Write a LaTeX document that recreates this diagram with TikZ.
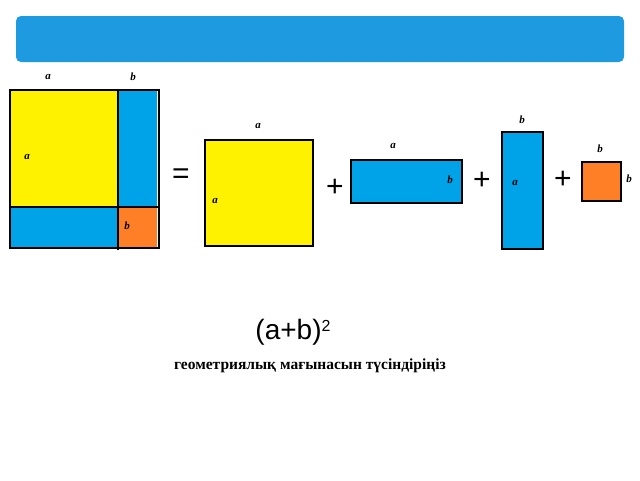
\documentclass[tikz,border=0pt]{standalone}
\usepackage{fontspec}
\setmainfont{Liberation Serif}
\newfontfamily\arialf{Liberation Sans}
\definecolor{yel}{HTML}{FFF200}
\definecolor{blu}{HTML}{00A2E8}
\definecolor{org}{HTML}{FF7F27}
\definecolor{ban}{HTML}{1E9BE0}
\tikzset{lab/.style={font=\bfseries\itshape\fontsize{11}{11}\selectfont,inner sep=0pt},
 pl/.style={font=\arialf\fontsize{30}{30}\selectfont,inner sep=0pt},
 sq/.style={draw=black,line width=2.2pt}}
\begin{document}
\begin{tikzpicture}[x=1pt,y=-1pt]
\useasboundingbox (0,0) rectangle (640,480);
\fill[ban,rounded corners=5pt] (16,16) rectangle (624,62);
% big square
\fill[yel] (10,90) rectangle (118,207);
\fill[blu] (118,90) rectangle (157,207);
\fill[blu] (10,207) rectangle (118,248);
\fill[org] (118,207) rectangle (157,248);
\draw[line width=1.5pt] (118,90) -- (118,250) (10,207) -- (159,207);
\draw[sq] (10,90) rectangle (159,248);
\node[lab] (la1) at (48,77) {a};
\node[lab] (lb1) at (133,77) {b};
\node[lab] (la2) at (27,157) {a};
\node[lab] (lb2) at (127,226) {b};
\node[pl] (eq) at (181,176) {=};
\node[sq,fill=yel,minimum width=108pt,minimum height=106pt,inner sep=0pt] (s1) at (259,193) {};
\node[lab] at (258,126) {a};
\node[lab] at (215,201) {a};
\node[pl] (p1) at (335,188) {+};
\node[sq,fill=blu,minimum width=111pt,minimum height=43pt,inner sep=0pt] (r1) at (406.5,181.5) {};
\node[lab] at (393,146) {a};
\node[lab] at (450,180) {b};
\node[pl] (p2) at (482,181) {+};
\node[sq,fill=blu,minimum width=41pt,minimum height=117pt,inner sep=0pt] (r2) at (522.5,190.5) {};
\node[lab] at (522,120) {b};
\node[lab] at (515,183) {a};
\node[pl] (p3) at (563,180) {+};
\node[sq,fill=org,minimum width=39pt,minimum height=39pt,inner sep=0pt] (s2) at (601.5,181.5) {};
\node[lab] at (600,149) {b};
\node[lab] at (629,179) {b};
\node[font=\arialf\fontsize{28}{28}\selectfont] (f) at (293,332) {(a+b)\raisebox{0.55ex}{\fontsize{16}{16}\selectfont 2}};
\node[font=\bfseries\fontsize{15.5}{16}\selectfont] (t) at (310,366) {геометриялық мағынасын түсіндіріңіз};
\end{tikzpicture}
\end{document}
